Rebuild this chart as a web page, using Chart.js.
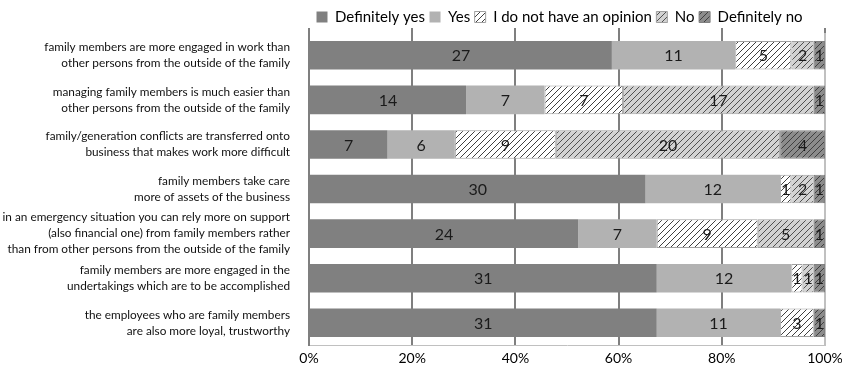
<!DOCTYPE html>
<html><head><meta charset="utf-8">
<script src="https://cdn.jsdelivr.net/npm/chart.js@4.4.0/dist/chart.umd.min.js"></script>
<style>html,body{margin:0;padding:0;background:#fff}#wrap{width:842px;height:372px}</style>
</head><body><div id="wrap"><canvas id="c" width="842" height="372"></canvas></div>
<script>
const categories = [
  ["family members are more engaged in work than","other persons from the outside of the family"],
  ["managing family members is much easier than","other persons from the outside of the family"],
  ["family/generation conflicts are transferred onto","business that makes work more difficult"],
  ["family members take care","more of assets of the business"],
  ["in an emergency situation you can rely more on support","(also financial one) from family members rather","than from other persons from the outside of the family"],
  ["family members are more engaged in the","undertakings which are to be accomplished"],
  ["the employees who are family members","are also more loyal, trustworthy"]
];
const seriesNames = ["Definitely yes","Yes","I do not have an opinion","No","Definitely no"];
const definitelyYes = [27,14,7,30,24,31,31];
const yes          = [11,7,6,12,7,12,11];
const noOpinion    = [5,7,9,1,9,1,3];
const no           = [2,17,20,2,5,1,0];
const definitelyNo = [1,1,4,1,1,1,1];
const xTickLabels = ["0%","20%","40%","60%","80%","100%"];

const FONT = "Lato";
const ctx = document.getElementById('c').getContext('2d');
function hatch(bg, line){
  const s = 6, c = document.createElement('canvas'); c.width = s; c.height = s;
  const g = c.getContext('2d');
  g.fillStyle = bg; g.fillRect(0,0,s,s);
  g.strokeStyle = line; g.lineWidth = 1;
  g.beginPath();
  g.moveTo(0,s); g.lineTo(s,0);
  g.moveTo(-1,1); g.lineTo(1,-1);
  g.moveTo(s-1,s+1); g.lineTo(s+1,s-1);
  g.stroke();
  return ctx.createPattern(c,'repeat');
}
const allSeries = [definitelyYes, yes, noOpinion, no, definitelyNo];
const totals = categories.map((_, i) => allSeries.reduce((a, s) => a + s[i], 0));
const pct = s => s.map((v, i) => v / totals[i] * 100);

const fills = ['#808080', '#b2b2b2', hatch('#ffffff','#404040'), hatch('#d2d2d2','#505050'), hatch('#8c8c8c','#404040')];
const borders = ['#808080', '#b2b2b2', '#a0a0a0', '#a0a0a0', '#808080'];

const datasets = allSeries.map((s, k) => ({
  label: seriesNames[k],
  data: pct(s),
  counts: s,
  backgroundColor: fills[k],
  borderColor: borders[k],
  borderWidth: k >= 2 ? 1 : 0,
  borderSkipped: false,
  barPercentage: 0.64,
  categoryPercentage: 1.0
}));

const valueLabels = {
  id: 'valueLabels',
  afterDatasetsDraw(chart){
    const c = chart.ctx;
    c.save();
    c.font = `16px ${FONT}`;
    c.fillStyle = '#1a1a1a';
    c.textAlign = 'center';
    c.textBaseline = 'middle';
    chart.data.datasets.forEach((ds, di) => {
      const meta = chart.getDatasetMeta(di);
      meta.data.forEach((el, i) => {
        const v = ds.counts[i];
        if (!v) return;
        c.fillText(String(v), (el.x + el.base) / 2, el.y + 1);
      });
    });
    c.restore();
  }
};
const legendShift = {
  id: 'legendShift',
  afterLayout(chart){
    const lg = chart.legend;
    const w = lg.right - lg.left;
    lg.left = 312; lg.right = 312 + w;
  }
};

new Chart(ctx, {
  type: 'bar',
  data: { labels: categories, datasets },
  plugins: [valueLabels, legendShift],
  options: {
    responsive: false,
    animation: false,
    indexAxis: 'y',
    layout: { padding: { top: 5, right: 0, left: 0, bottom: 0 } },
    plugins: {
      legend: {
        position: 'top',
        align: 'start',
        maxHeight: 23,
        labels: { font: { family: FONT, size: 15 }, color: '#000', boxWidth: 11, boxHeight: 11, padding: 4.5 }
      },
      tooltip: { enabled: false }
    },
    scales: {
      x: {
        stacked: true, min: 0, max: 100,
        position: 'bottom',
        ticks: { stepSize: 20, color: '#000', font: { family: FONT, size: 14 }, padding: 5,
          callback: (v, i) => xTickLabels[i] },
        grid: { color: ctx2 => ctx2.index === 5 ? '#c0c0c0' : '#7f7f7f', lineWidth: 2, drawTicks: false },
        border: { color: '#c0c0c0', width: 1 },
        afterFit(scale){ scale.paddingRight = 17; }
      },
      x2: {
        axis: 'x', min: 0, max: 100, position: 'top',
        ticks: { stepSize: 20, display: false },
        grid: { drawOnChartArea: false, drawTicks: true, tickLength: 5, color: '#7f7f7f', lineWidth: 2 },
        border: { display: false }
      },
      y: {
        stacked: true,
        ticks: { color: '#111', font: { family: FONT, size: 11.8, lineHeight: 1.35 }, padding: 11, autoSkip: false },
        grid: { display: false },
        border: { color: '#7f7f7f', width: 2 },
        afterFit(scale){ scale.width = 309; }
      }
    }
  }
});
</script></body></html>
